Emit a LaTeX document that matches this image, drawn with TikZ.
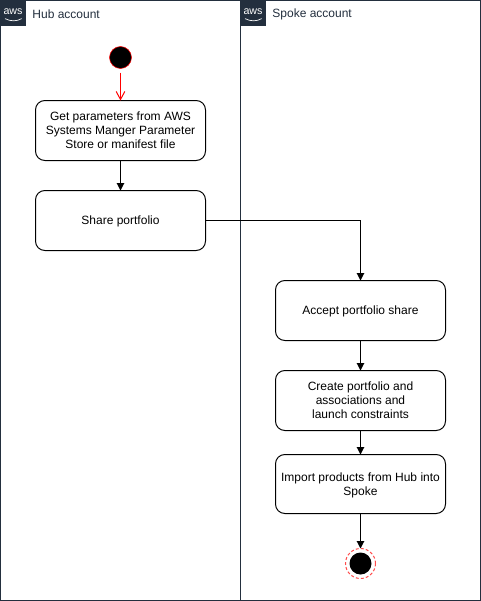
\documentclass[tikz,border=0pt]{standalone}
\usepackage{fontspec}
\setmainfont{Liberation Sans}
\usepackage{xcolor}
\usetikzlibrary{arrows.meta,positioning}
\definecolor{awsdark}{HTML}{232F3E}
\definecolor{flowred}{HTML}{FF0000}
\tikzset{
  lane/.style={draw=awsdark,line width=.75pt,fill=white,minimum width=180pt,minimum height=450pt,inner sep=0pt,outer sep=0pt},
  lanelogo/.style={fill=awsdark,minimum size=18.75pt,inner sep=0pt,outer sep=0pt},
  logotext/.style={text=white,inner sep=0pt,font=\fontsize{8}{8}\selectfont},
  lanetitle/.style={font=\fontsize{9}{11}\selectfont,text=awsdark,inner sep=0pt},
  actbox/.style={draw=black,line width=.75pt,fill=white,rounded corners=7pt,minimum width=127.5pt,minimum height=45pt,
    inner sep=1pt,outer sep=0pt,align=center,text depth=0pt,font=\fontsize{9}{10.5}\selectfont},
  startdot/.style={circle,fill=black,draw=flowred,line width=.4pt,minimum size=16.5pt,inner sep=0pt,outer sep=0pt},
  endring/.style={circle,draw=flowred!70,dash pattern=on 2.2pt off 1.6pt,line width=.75pt,minimum size=22.5pt,inner sep=0pt,outer sep=0pt},
  flow/.style={-{Triangle[length=5.5pt,width=5.5pt]},line width=.75pt,draw=black},
  startflow/.style={-{Straight Barb[length=6pt,width=6.5pt]},line width=.75pt,draw=flowred}
}
\begin{document}
\begin{tikzpicture}[node distance=22.5pt]
  \path[use as bounding box] (0,0) rectangle (360.75pt,-450.75pt);
  \node[lane,anchor=north west] (hub) at (.375pt,-.375pt) {};
  \node[lane,anchor=north west] (spoke) at (hub.north east) {};
  \node[lanelogo,anchor=north west] (hublogo) at (hub.north west) {};
  \node[lanelogo,anchor=north west] (spokelogo) at (spoke.north west) {};
  \node[logotext] (hubaws) at ([yshift=.8pt]hublogo.center) {aws};
  \node[logotext] (spokeaws) at ([yshift=.8pt]spokelogo.center) {aws};
  \draw[white,line width=.5pt] ([shift={(-6pt,-4.2pt)}]hublogo.center) .. controls ([shift={(-2pt,-6.4pt)}]hublogo.center) and ([shift={(3pt,-6.4pt)}]hublogo.center) .. ([shift={(6.5pt,-4.2pt)}]hublogo.center);
  \draw[white,line width=.5pt] ([shift={(-6pt,-4.2pt)}]spokelogo.center) .. controls ([shift={(-2pt,-6.4pt)}]spokelogo.center) and ([shift={(3pt,-6.4pt)}]spokelogo.center) .. ([shift={(6.5pt,-4.2pt)}]spokelogo.center);
  \node[lanetitle,right=5pt of hublogo,yshift=-1pt] (hubtitle) {Hub account};
  \node[lanetitle,right=5pt of spokelogo,yshift=-1pt] (spoketitle) {Spoke account};

  \node[actbox,anchor=north,text depth=-.5pt] (params) at ([yshift=-75pt]hub.north) {Get parameters from AWS\\Systems Manger Parameter\\Store or manifest file};
  \node[actbox,below=of params] (share) {Share portfolio};
  \node[startdot,above=24pt of params.north] (start) {};
  \coordinate[above=21pt of params.north] (startout);
  \node[actbox,anchor=north] (accept) at ([yshift=-210pt]spoke.north) {Accept portfolio share};
  \node[actbox,below=of accept,text depth=-1.2pt] (create) {Create portfolio and\\associations and\\launch constraints};
  \node[actbox,below=of create,yshift=4.5pt,minimum height=44.25pt] (import) {Import products from Hub into\\Spoke};
  \node[endring,below=26.25pt of import.south] (finish) {};
  \node[circle,fill=black,minimum size=16.5pt,inner sep=0pt] (finishdot) at (finish) {};

  \draw[startflow] (startout)--(params.north);
  \draw[flow] (params)--(share);
  \draw[flow] (share.east)-|(accept.north);
  \draw[flow] (accept)--(create);
  \draw[flow] (create)--(import);
  \draw[flow] (import)--(finish);
\end{tikzpicture}
\end{document}
